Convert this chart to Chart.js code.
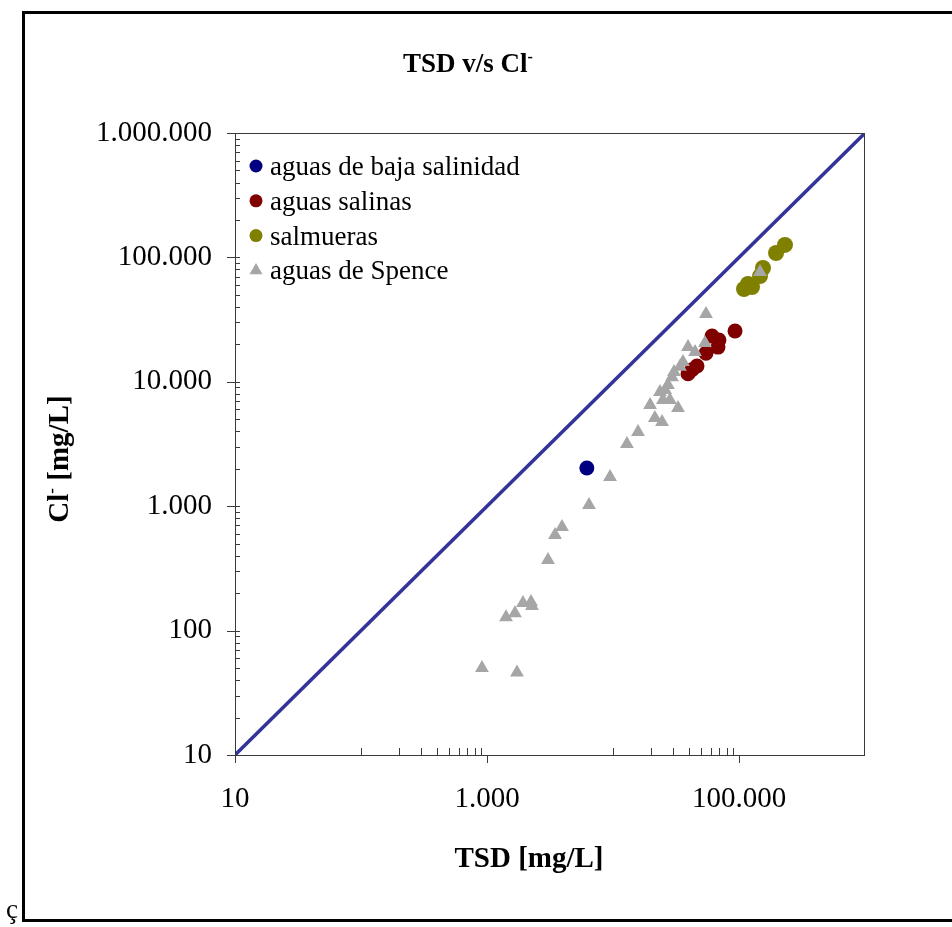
<!DOCTYPE html>
<html>
<head>
<meta charset="utf-8">
<title>TSD v/s Cl-</title>
<script src="https://cdn.jsdelivr.net/npm/chart.js@4.4.1/dist/chart.umd.min.js"></script>
<style>
  html, body { margin: 0; padding: 0; background: #fff; }
  canvas { display: block; }
</style>
</head>
<body>
<canvas id="chart" width="952" height="927"></canvas>
<script>
// ===================== Data =====================
const bajaTSD = [6200];
const bajaCl = [2030];

const salinasTSD = [93000, 61100, 69300, 68100, 54700, 46400, 39400, 42400];
const salinasCl = [25600, 23300, 21700, 19000, 17000, 13400, 11600, 12500];

const salmuerasTSD = [231700, 196800, 155000, 146800, 126800, 109600, 117900];
const salmuerasCl = [125900, 108500, 82200, 70800, 57800, 55700, 61100];

const spenceTSD = [912, 1730, 1416, 1667, 1930, 2235, 2275, 3048, 3467, 3937,
  6450, 9470, 12900, 15800, 19700, 21500, 24500, 24900, 28300, 32800,
  25900, 27300, 29400, 34000, 35900, 39400, 44800, 53700, 54700, 146800,
  23600, 30500];
const spenceCl = [50, 46, 128, 138, 167, 170, 158, 370, 586, 680,
  1023, 1720, 3160, 3950, 6520, 5120, 4750, 7150, 7150, 6150,
  8590, 9420, 10900, 13200, 14400, 19000, 17400, 20500, 35100, 76400,
  8280, 12000];

// 1:1 reference line
const refLine = [10, 1000000];

const xTickValues = [10, 1000, 100000];
const yTickValues = [10, 100, 1000, 10000, 100000, 1000000];

const labels = ["aguas de baja salinidad", "aguas salinas", "salmueras", "aguas de Spence"];

// ===================== Helpers =====================
const SERIF = "'Liberation Serif', 'Times New Roman', serif";

function fmt(v) {
  return String(v).replace(/\B(?=(\d{3})+(?!\d))/g, ".");
}

function pairs(xs, ys) {
  return xs.map((x, i) => ({ x: x, y: ys[i] }));
}

// text with a small raised minus after the first part (Cl-)
function drawSupText(ctx, main, rest, x, y, size) {
  ctx.font = "bold " + size + "px " + SERIF;
  const w1 = ctx.measureText(main).width;
  ctx.font = "bold " + Math.round(size * 0.6) + "px " + SERIF;
  const wm = ctx.measureText("-").width;
  ctx.font = "bold " + size + "px " + SERIF;
  const w2 = ctx.measureText(rest).width;
  let cx = x - (w1 + wm + w2) / 2;
  ctx.textAlign = "left";
  ctx.fillText(main, cx, y);
  cx += w1;
  ctx.font = "bold " + Math.round(size * 0.6) + "px " + SERIF;
  ctx.fillText("-", cx, y - size * 0.38);
  cx += wm;
  ctx.font = "bold " + size + "px " + SERIF;
  ctx.fillText(rest, cx, y);
}

// ===================== Frame, ticks, titles, legend =====================
const decorPlugin = {
  id: "decor",
  afterDraw(chart) {
    const { ctx, chartArea: a, scales } = chart;
    const xs = scales.x, ys = scales.y;
    ctx.save();

    // plot box
    ctx.strokeStyle = "#3a3a3a";
    ctx.lineWidth = 1;
    ctx.strokeRect(a.left + 0.5, a.top + 0.5, a.right - a.left - 1, a.bottom - a.top);

    // y axis ticks
    ctx.beginPath();
    for (let e = 1; e <= 6; e++) {
      const py = Math.round(ys.getPixelForValue(Math.pow(10, e))) + 0.5;
      ctx.moveTo(a.left - 8, py);
      ctx.lineTo(a.left + 5, py);
      if (e < 6) {
        for (let k = 2; k <= 9; k++) {
          const my = Math.round(ys.getPixelForValue(k * Math.pow(10, e))) + 0.5;
          ctx.moveTo(a.left, my);
          ctx.lineTo(a.left + 5, my);
        }
      }
    }
    // x axis ticks
    xTickValues.forEach(v => {
      const px = Math.round(xs.getPixelForValue(v)) + 0.5;
      ctx.moveTo(px, a.bottom);
      ctx.lineTo(px, a.bottom + 8);
    });
    [100, 10000].forEach(base => {
      for (let k = 1; k <= 9; k++) {
        const px = Math.round(xs.getPixelForValue(k * base)) + 0.5;
        ctx.moveTo(px, a.bottom - 7);
        ctx.lineTo(px, a.bottom);
      }
    });
    ctx.stroke();

    // outer frame
    ctx.strokeStyle = "#000";
    ctx.lineWidth = 3;
    ctx.strokeRect(23.5, 12.5, 960, 908);

    // titles
    ctx.fillStyle = "#000";
    ctx.textBaseline = "alphabetic";
    drawSupText(ctx, "TSD v/s Cl", "", 468, 72, 27);

    ctx.font = "bold 29px " + SERIF;
    ctx.textAlign = "center";
    ctx.fillText("TSD [mg/L]", 529, 867);

    ctx.save();
    ctx.translate(68, 459);
    ctx.rotate(-Math.PI / 2);
    drawSupText(ctx, "Cl", " [mg/L]", 0, 0, 29);
    ctx.restore();

    // stray character at the bottom left of the original
    ctx.font = "27px " + SERIF;
    ctx.textAlign = "left";
    ctx.fillText("ç", 6, 918);

    // legend
    const items = chart.data.datasets.filter(d => !d.isRef);
    items.forEach((d, i) => {
      const base = 175 + i * 34.8;
      const mx = 256, my = base - 9;
      ctx.fillStyle = d.backgroundColor;
      ctx.beginPath();
      if (d.pointStyle === "triangle") {
        const r = 7.5;
        ctx.moveTo(mx, my - r);
        ctx.lineTo(mx + r * 0.866, my + r * 0.5);
        ctx.lineTo(mx - r * 0.866, my + r * 0.5);
        ctx.closePath();
      } else {
        ctx.arc(mx, my, 6.5, 0, Math.PI * 2);
      }
      ctx.fill();
      ctx.fillStyle = "#000";
      ctx.font = "27px " + SERIF;
      ctx.textAlign = "left";
      ctx.fillText(d.label, 270, base);
    });

    ctx.restore();
  }
};

// ===================== Chart =====================
const ctx = document.getElementById("chart").getContext("2d");

new Chart(ctx, {
  type: "scatter",
  data: {
    datasets: [
      {
        label: labels[0],
        data: pairs(bajaTSD, bajaCl),
        pointStyle: "circle",
        pointRadius: 7.5,
        backgroundColor: "#000080",
        borderWidth: 0,
        order: 3
      },
      {
        label: labels[1],
        data: pairs(salinasTSD, salinasCl),
        pointStyle: "circle",
        pointRadius: 7.5,
        backgroundColor: "#800000",
        borderWidth: 0,
        order: 2
      },
      {
        label: labels[2],
        data: pairs(salmuerasTSD, salmuerasCl),
        pointStyle: "circle",
        pointRadius: 8,
        backgroundColor: "#808000",
        borderWidth: 0,
        order: 2
      },
      {
        label: labels[3],
        data: pairs(spenceTSD, spenceCl),
        pointStyle: "triangle",
        pointRadius: 8,
        backgroundColor: "#a6a6a6",
        borderWidth: 0,
        order: 1
      },
      {
        label: "1:1",
        isRef: true,
        type: "line",
        data: pairs(refLine, refLine),
        borderColor: "#333399",
        borderWidth: 3.5,
        pointRadius: 0,
        fill: false,
        order: 4
      }
    ]
  },
  options: {
    responsive: false,
    animation: false,
    layout: { padding: { top: 133, right: 87, left: 0, bottom: 0 } },
    plugins: {
      legend: { display: false },
      title: { display: false },
      tooltip: { enabled: false }
    },
    scales: {
      x: {
        type: "logarithmic",
        min: 10,
        max: 1000000,
        grid: { display: false, drawTicks: false },
        border: { display: false },
        afterBuildTicks: s => { s.ticks = xTickValues.map(v => ({ value: v })); },
        afterFit: s => { s.height = 172; },
        ticks: {
          color: "#000",
          font: { family: SERIF, size: 29 },
          padding: 27,
          maxRotation: 0,
          autoSkip: false,
          callback: v => fmt(v)
        }
      },
      y: {
        type: "logarithmic",
        min: 10,
        max: 1000000,
        grid: { display: false, drawTicks: false },
        border: { display: false },
        afterBuildTicks: s => { s.ticks = yTickValues.map(v => ({ value: v })); },
        afterFit: s => { s.width = 235; },
        ticks: {
          color: "#000",
          font: { family: SERIF, size: 29 },
          padding: 23,
          autoSkip: false,
          callback: v => fmt(v)
        }
      }
    }
  },
  plugins: [decorPlugin]
});
</script>
</body>
</html>
